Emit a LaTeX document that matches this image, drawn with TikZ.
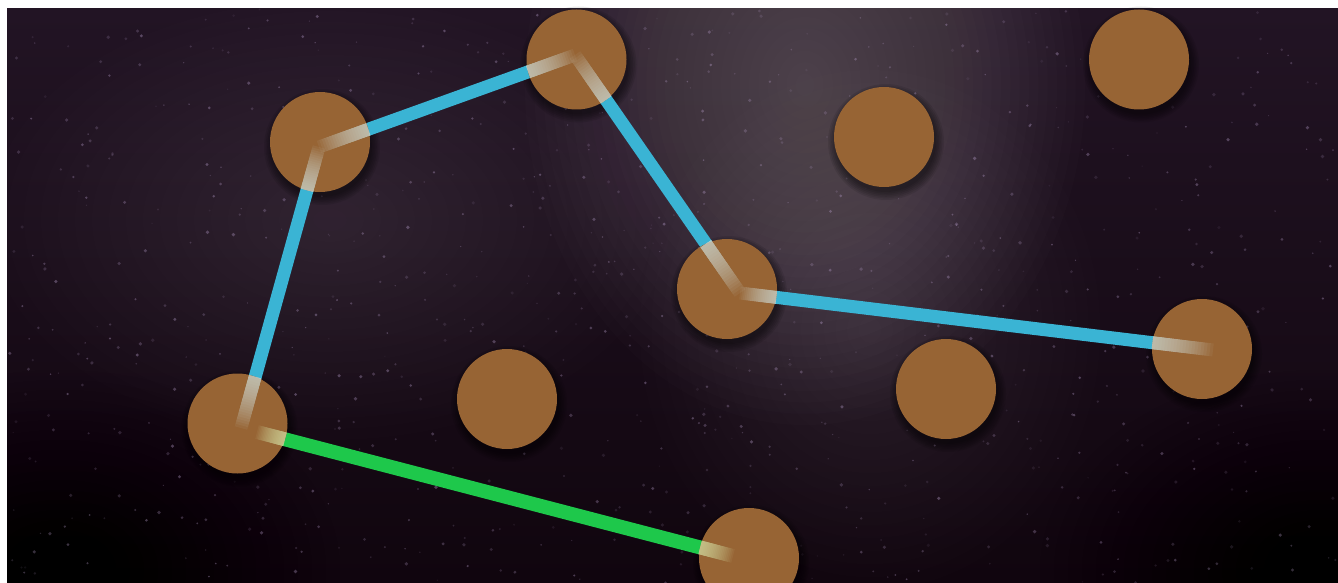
\documentclass[tikz,border=0pt]{standalone}
\usetikzlibrary{calc}
\definecolor{bgtop}{RGB}{34,20,36}
\definecolor{bgbot}{RGB}{16,5,14}
\definecolor{glow}{RGB}{160,150,155}
\definecolor{starc}{RGB}{185,160,205}
\definecolor{dotc}{RGB}{151,100,52}
\definecolor{lineb}{RGB}{58,180,212}
\definecolor{lineg}{RGB}{30,200,75}
\definecolor{fadeb}{RGB}{215,230,225}
\definecolor{fadeg}{RGB}{222,235,175}
\tikzset{
  dot/.style={circle, fill=dotc, draw=none, minimum size=100, inner sep=0pt},
  bline/.style={line width=13, draw=lineb},
  gline/.style={line width=14, draw=lineg},
}
\newcommand\fadeseg[4]{%
  \foreach \k in {1,...,20}{%
    \draw[line width=#4, draw=#3, draw opacity=0.06] (#1) -- ($(#1)!{\k/20}!(#2)$);
  }}
\newcommand\dshadow[1]{%
  \foreach \s in {0,...,5}{\fill[black, opacity=0.09] ($(#1)+(2,5)$) circle ({50+\s*1.6});}}
\begin{document}
\begin{tikzpicture}[x=1pt,y=-1pt]
\useasboundingbox (0,0) rectangle (1338,583);
\fill[white] (0,0) rectangle (1338,583);
% background
\shade[top color=bgtop, bottom color=bgbot] (7,9) rectangle (1338,583);
\begin{scope}
\clip (7,9) rectangle (1338,583);
\foreach \s in {1,...,30}{\fill[glow, opacity=0.02] (805,85) ellipse ({280*\s/30} and {340*\s/30});}
\foreach \s in {1,...,20}{\fill[glow, opacity=0.012] (870,330) ellipse ({230*\s/20} and {260*\s/20});}
\foreach \s in {1,...,20}{\fill[starc, opacity=0.008] (330,220) ellipse ({340*\s/20} and {220*\s/20});}
\foreach \s in {1,...,20}{\fill[black, opacity=0.01] (60,570) ellipse ({280*\s/20} and {200*\s/20});}
\foreach \s in {1,...,20}{\fill[black, opacity=0.008] (1320,570) ellipse ({280*\s/20} and {200*\s/20});}
\pgfmathsetseed{7}
\foreach \i in {1,...,900}{%
  \pgfmathsetmacro\sx{7+rnd*1331}%
  \pgfmathsetmacro\sy{9+rnd*574}%
  \pgfmathsetmacro\so{0.08+0.3*rnd}%
  \pgfmathsetmacro\sr{0.6+1.3*rnd}%
  \fill[starc, opacity=\so] (\sx,\sy) circle (\sr);
}
\end{scope}
% junction coordinates
\coordinate (J1) at (319,147);
\coordinate (J2) at (575,55);
\coordinate (J5) at (740,293);
\coordinate (J6) at (1213,350);
\coordinate (J9) at (241,428);
\coordinate (J9g) at (257,432);
\coordinate (J10) at (733,556);
% shadows
\foreach \p in {{320,142},{576.5,59.5},{884,137},{1139,59.5},{727,289},{1202,349},{946,389},{507,399},{237.5,423.5},{749,558}}{%
  \coordinate (sh) at (\p); \dshadow{sh}}
% connectors
\draw[bline] (J9) -- (J1) -- (J2) -- (J5) -- (J6);
\draw[gline] (J9g) -- (J10);
% circles
\node[dot] (n1) at (320,142) {};
\node[dot] (n2) at (576.5,59.5) {};
\node[dot] (n3) at (884,137) {};
\node[dot] (n4) at (1139,59.5) {};
\node[dot] (n5) at (727,289) {};
\node[dot] (n6) at (1202,349) {};
\node[dot] (n7) at (946,389) {};
\node[dot] (n8) at (507,399) {};
\node[dot] (n9) at (237.5,423.5) {};
\node[dot] (n10) at (749,558) {};
% faded parts inside circles
\coordinate (E9a) at (255.2,376.7);
\coordinate (E1a) at (307,190.3);
\coordinate (E1b) at (368.3,129.3);
\coordinate (E2b) at (528.1,71.9);
\coordinate (E2c) at (606.1,99.8);
\coordinate (E5c) at (705.8,243.7);
\coordinate (E5d) at (776.3,297.4);
\coordinate (E6d) at (1152.4,342.7);
\coordinate (E9e) at (285,439.3);
\coordinate (E10e) at (700.1,547.4);
\fadeseg{E9a}{J9}{fadeb}{13}
\fadeseg{E1a}{J1}{fadeb}{13}
\fadeseg{E1b}{J1}{fadeb}{13}
\fadeseg{E2b}{J2}{fadeb}{13}
\fadeseg{E2c}{J2}{fadeb}{13}
\fadeseg{E5c}{J5}{fadeb}{13}
\fadeseg{E5d}{J5}{fadeb}{13}
\fadeseg{E6d}{J6}{fadeb}{13}
\fadeseg{E9e}{J9g}{fadeg}{14}
\fadeseg{E10e}{J10}{fadeg}{14}
\end{tikzpicture}
\end{document}
